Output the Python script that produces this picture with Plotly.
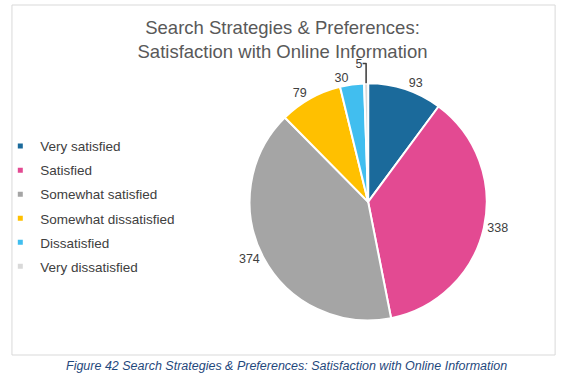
import plotly.graph_objects as go

categories = ["Very satisfied", "Satisfied", "Somewhat satisfied",
              "Somewhat dissatisfied", "Dissatisfied", "Very dissatisfied"]
values = [93, 338, 374, 79, 30, 5]
colors = ["#1B6A9B", "#E34A92", "#A5A5A5", "#FFC000", "#41BEEF", "#D9D9D9"]

title_text = "Search Strategies & Preferences:<br>Satisfaction with Online Information"
caption = "Figure 42 Search Strategies & Preferences: Satisfaction with Online Information"

fig = go.Figure()
fig.add_trace(go.Pie(
    labels=categories, values=values, sort=False, direction="clockwise",
    rotation=0,
    marker=dict(colors=colors, line=dict(color="white", width=2)),
    textinfo="value", textposition="outside",
    textfont=dict(family="Liberation Sans, Arial", size=12.5, color="#404040"),
    domain=dict(x=[0.4347, 0.8597], y=[0.143, 0.783]),
    showlegend=False, hoverinfo="label+value",
))
for c, col in zip(categories, colors):
    fig.add_trace(go.Scatter(
        x=[None], y=[None], mode="markers", name=c, legendgroup=c,
        marker=dict(symbol="square", size=5, color=col),
    ))

fig.update_layout(
    width=565, height=376,
    margin=dict(l=0, r=0, t=0, b=0),
    paper_bgcolor="white", plot_bgcolor="white",
    xaxis=dict(visible=False), yaxis=dict(visible=False),
    title=dict(text=title_text, x=0.5, xanchor="center", y=0.909, yanchor="middle",
               font=dict(family="Liberation Sans, Arial", size=18.5, color="#595959")),
    legend=dict(x=-0.012, xanchor="left", y=0.652, yanchor="top",
                font=dict(family="Liberation Sans, Arial", size=13.5, color="#404040"),
                tracegroupgap=3.5, bgcolor="rgba(0,0,0,0)", itemwidth=30),
    shapes=[dict(type="rect", xref="paper", yref="paper",
                 x0=5/565, x1=555/565, y0=1-355/376, y1=1-5/376,
                 line=dict(color="#D9D9D9", width=1), fillcolor="rgba(0,0,0,0)", layer="below")],
    annotations=[dict(text="<i>" + caption + "</i>", xref="paper", yref="paper",
                      x=283/565, y=1-366/376, xanchor="center", yanchor="middle", showarrow=False,
                      font=dict(family="Liberation Sans, Arial", size=12.5, color="#1F497D"))],
)
fig.write_html("out.html", config={"displayModeBar": False},
               post_script="document.body.style.margin='0';")
